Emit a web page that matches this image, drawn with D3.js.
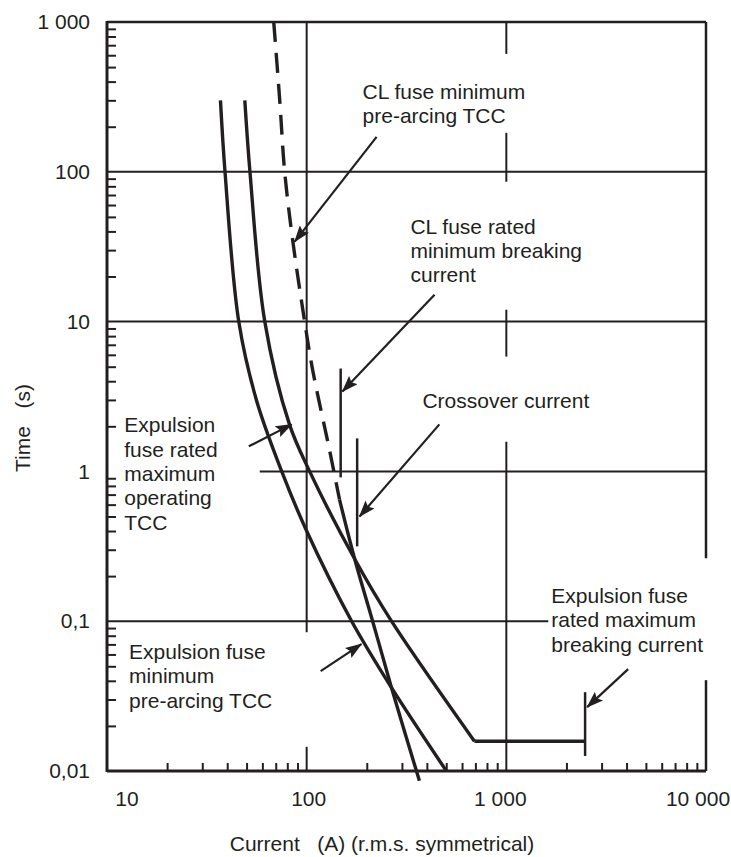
<!DOCTYPE html>
<html>
<head>
<meta charset="utf-8">
<script src="https://cdn.jsdelivr.net/npm/d3@7"></script>
<style>
body { margin: 0; background: #fff; }
text { font-family: "Liberation Sans", Arial, sans-serif; font-size: 21px; fill: #231f20; white-space: pre; }
</style>
</head>
<body>
<script>
// time-current curves, current in A, time in s
var expMinCurrent = [37, 39, 45.7, 56, 75, 100, 168, 266, 501];
var expMinTime    = [300, 100, 10, 3, 1, 0.4, 0.1, 0.036, 0.01];

var expMaxCurrent = [49, 52, 61.7, 82, 103.5, 174, 266, 692];
var expMaxTime    = [300, 100, 10, 2.06, 1, 0.26, 0.1, 0.0158];
var expFlatCurrent = [692, 2480];
var expFlatTime    = [0.0158, 0.0158];

var clDashCurrent = [68.4, 73.3, 77.6, 85.1, 97.7, 107, 130, 146];
var clDashTime    = [1000, 300, 100, 35, 10, 4.8, 1.4, 0.65];
var clSolidCurrent = [146, 174, 214, 266, 367];
var clSolidTime    = [0.65, 0.26, 0.1, 0.036, 0.0086];

// short vertical markers: current, top time, bottom time
var markCurrent = [148, 179, 2480];
var markTop     = [4.86, 1.66, 0.0336];
var markBottom  = [0.912, 0.316, 0.0126];

// axis ticks
var xTicks = [10, 100, 1000, 10000];
var xTickLabels = ["10", "100", "1 000", "10 000"];
var yTicks = [0.01, 0.1, 1, 10, 100, 1000];
var yTickLabels = ["0,01", "0,1", "1", "10", "100", "1 000"];

// notes: text lines, label anchor and arrow (from -> to), all in current / time
var notes = [
  {lines: ["CL fuse minimum", "pre-arcing TCC"], at: [190.5, 307], from: [224, 171], to: [87.1, 34.2]},
  {lines: ["CL fuse rated", "minimum breaking", "current"], at: [331, 38.6], from: [437, 15.1], to: [151, 3.41]},
  {lines: ["Crossover current"], at: [380, 2.67], from: [462, 2.06], to: [184, 0.5]},
  {lines: ["Expulsion", "fuse rated", "maximum", "operating", "TCC"], at: [12.2, 1.82], from: [51.3, 1.47], to: [84.1, 2.06]},
  {lines: ["Expulsion fuse", "minimum", "pre-arcing TCC"], at: [12.9, 0.0558], from: [117.5, 0.0464], to: [188, 0.0703]},
  {lines: ["Expulsion fuse", "rated maximum", "breaking current"], at: [1679, 0.132], from: [4074, 0.0479], to: [2541, 0.0267]}
];

var w = 731, h = 857;
var ink = "#231f20";

var x = d3.scaleLog().domain([10, 10000]).range([107, 706]);
var y = d3.scaleLog().domain([0.01, 1000]).range([771, 22]);

var svg = d3.select("body").append("svg")
  .attr("width", w)
  .attr("height", h);

svg.append("defs").append("marker")
  .attr("id", "head")
  .attr("viewBox", "0 -6 17 12")
  .attr("refX", 16)
  .attr("refY", 0)
  .attr("markerUnits", "userSpaceOnUse")
  .attr("markerWidth", 17)
  .attr("markerHeight", 12)
  .attr("orient", "auto")
  .append("path")
  .attr("d", "M0,-6L17,0L0,6L3,0Z")
  .attr("fill", ink);

// grid lines with the gaps left for the notes
var vGrid = [
  {c: 100, t: [[1000, 0.0845], [0.0145, 0.01]]},
  {c: 1000, t: [[1000, 612], [182, 85.8], [12.0, 5.84], [1.58, 0.01]]},
  {c: 10000, t: [[1000, 0.263], [0.0404, 0.01]]}
];
var hGrid = [
  {t: 100, c: [10, 10000]},
  {t: 10, c: [10, 10000]},
  {t: 1, c: [58.2, 10000]},
  {t: 0.1, c: [10, 1622]},
  {t: 1000, c: [10, 10000]}
];

var grid = svg.append("g").attr("stroke", ink).attr("stroke-width", 2);
vGrid.forEach(function(g) {
  g.t.forEach(function(seg) {
    grid.append("line")
      .attr("x1", x(g.c)).attr("x2", x(g.c))
      .attr("y1", y(seg[0])).attr("y2", y(seg[1]))
      .attr("stroke-width", g.c == 10000 ? 2.5 : 2);
  });
});
hGrid.forEach(function(g) {
  grid.append("line")
    .attr("x1", x(g.c[0])).attr("x2", x(g.c[1]))
    .attr("y1", y(g.t)).attr("y2", y(g.t))
    .attr("stroke-width", g.t == 1000 ? 2.5 : 2);
});

// left and bottom frame
svg.append("line").attr("x1", x(10)).attr("x2", x(10)).attr("y1", y(1000) - 1).attr("y2", y(0.01) + 1)
  .attr("stroke", ink).attr("stroke-width", 3);
svg.append("line").attr("x1", x(10)).attr("x2", x(10000)).attr("y1", y(0.01)).attr("y2", y(0.01))
  .attr("stroke", ink).attr("stroke-width", 3);

// minor ticks
var minorX = [], minorY = [];
[10, 100, 1000].forEach(function(d) { for (var k = 2; k < 10; k++) minorX.push(d * k); });
[0.01, 0.1, 1, 10, 100].forEach(function(d) { for (var k = 2; k < 10; k++) minorY.push(+(d * k).toPrecision(3)); });

var xMinor = svg.append("g")
  .attr("transform", "translate(0," + y(0.01) + ")")
  .call(d3.axisBottom(x).tickValues(minorX).tickSize(-8).tickFormat(""));
xMinor.select(".domain").remove();
xMinor.selectAll("line").attr("stroke", ink).attr("stroke-width", 2);

var yMinor = svg.append("g")
  .attr("transform", "translate(" + x(10) + ",0)")
  .call(d3.axisLeft(y).tickValues(minorY).tickSize(-9).tickFormat(""));
yMinor.select(".domain").remove();
yMinor.selectAll("line").attr("stroke", ink).attr("stroke-width", 2);

// tick labels
var yLab = svg.append("g")
  .attr("transform", "translate(" + x(10) + ",0)")
  .call(d3.axisLeft(y).tickValues(yTicks).tickSize(0).tickPadding(17)
    .tickFormat(function(d, i) { return yTickLabels[i]; }));
yLab.select(".domain").remove();
yLab.selectAll("text").attr("font-size", null).attr("font-family", null).attr("fill", ink);

var xNudge = [20, 2, -6, -8];
svg.selectAll("text.xlab")
  .data(xTicks)
  .enter()
  .append("text")
  .attr("class", "xlab")
  .attr("x", function(d, i) { return x(d) + xNudge[i]; })
  .attr("y", 806)
  .attr("text-anchor", "middle")
  .text(function(d, i) { return xTickLabels[i]; });

// axis titles
svg.append("text")
  .attr("transform", "translate(30,428) rotate(-90)")
  .attr("text-anchor", "middle")
  .text("Time   (s)");
svg.append("text")
  .attr("x", 382)
  .attr("y", 851)
  .attr("text-anchor", "middle")
  .text("Current   (A) (r.m.s. symmetrical)");

// curves
var smooth = d3.line()
  .x(function(d) { return x(d[0]); })
  .y(function(d) { return y(d[1]); })
  .curve(d3.curveCatmullRom.alpha(0.5));
var straight = d3.line()
  .x(function(d) { return x(d[0]); })
  .y(function(d) { return y(d[1]); });

function pairs(a, b) { return a.map(function(v, i) { return [v, b[i]]; }); }

var curves = svg.append("g").attr("fill", "none").attr("stroke", ink).attr("stroke-width", 3.4);
curves.append("path").attr("d", smooth(pairs(expMinCurrent, expMinTime)));
curves.append("path").attr("d", smooth(pairs(expMaxCurrent, expMaxTime)));
curves.append("path").attr("d", straight(pairs(expFlatCurrent, expFlatTime)));
curves.append("path").attr("d", smooth(pairs(clDashCurrent, clDashTime)))
  .attr("stroke-dasharray", "20,11");
curves.append("path").attr("d", smooth(pairs(clSolidCurrent, clSolidTime)));

svg.selectAll("line.mark")
  .data(markCurrent)
  .enter()
  .append("line")
  .attr("class", "mark")
  .attr("x1", function(d) { return x(d); })
  .attr("x2", function(d) { return x(d); })
  .attr("y1", function(d, i) { return y(markTop[i]); })
  .attr("y2", function(d, i) { return y(markBottom[i]); })
  .attr("stroke", ink)
  .attr("stroke-width", 2.5);

// notes and arrows
svg.selectAll("line.arrow")
  .data(notes)
  .enter()
  .append("line")
  .attr("class", "arrow")
  .attr("x1", function(d) { return x(d.from[0]); })
  .attr("y1", function(d) { return y(d.from[1]); })
  .attr("x2", function(d) { return x(d.to[0]); })
  .attr("y2", function(d) { return y(d.to[1]); })
  .attr("stroke", ink)
  .attr("stroke-width", 2.2)
  .attr("marker-end", "url(#head)");

var labels = svg.selectAll("text.note")
  .data(notes)
  .enter()
  .append("text")
  .attr("class", "note")
  .attr("x", function(d) { return x(d.at[0]); })
  .attr("y", function(d) { return y(d.at[1]); });
labels.selectAll("tspan")
  .data(function(d) { return d.lines.map(function(l) { return {l: l, x: x(d.at[0])}; }); })
  .enter()
  .append("tspan")
  .attr("x", function(d) { return d.x; })
  .attr("dy", function(d, i) { return i == 0 ? 0 : 24.3; })
  .text(function(d) { return d.l; });
</script>
</body>
</html>
